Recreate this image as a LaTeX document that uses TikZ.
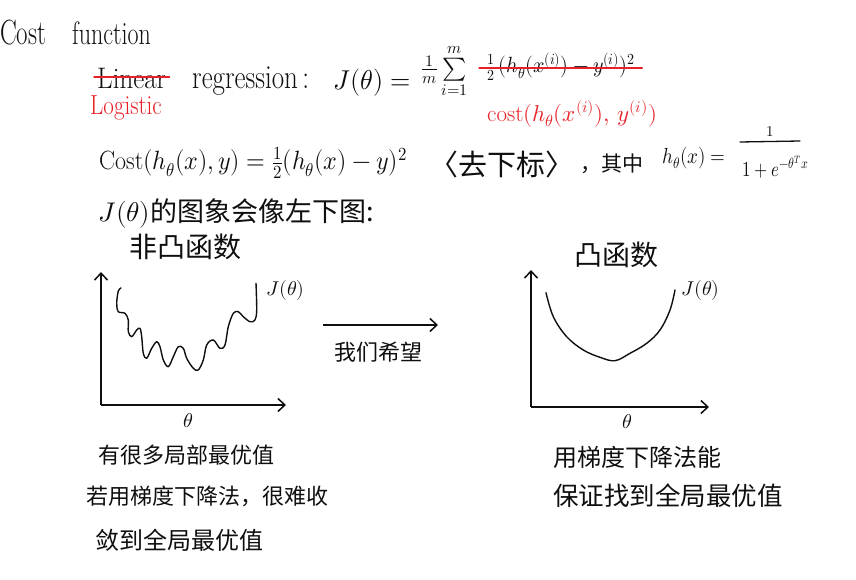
\documentclass[tikz,border=0pt]{standalone}
\usepackage{amsmath}
\usepackage{fontspec}
\usepackage{unicode-math}
\setmathfont{Latin Modern Math}
\newfontfamily\cjk{Noto Sans CJK SC}
\usetikzlibrary{arrows.meta}
\definecolor{pen}{RGB}{15,15,15}
\definecolor{redpen}{RGB}{232,32,40}
\newcommand{\fsz}[1]{\fontsize{#1}{#1}\selectfont}
\newcommand{\vstretch}[2]{\scalebox{1}[#1]{#2}}
\tikzset{
  txt/.style={inner sep=0pt, text=pen},
  redtxt/.style={inner sep=0pt, text=redpen},
  axis/.style={draw=pen, line width=1.5pt, -{Straight Barb[length=7pt,width=13pt]}},
  curve/.style={draw=pen, line width=1.4pt, line cap=round, line join=round},
  strike/.style={draw=redpen, line width=1.5pt, line cap=round},
  fracbar/.style={draw=pen, line width=1.3pt, line cap=round},
}
\begin{document}
\begin{tikzpicture}[x=1pt,y=-1pt]
\useasboundingbox[fill=white] (0,0) rectangle (856,580);

% title
\node[txt, anchor=base west, font=\fsz{25}] (cost) at (0,45) {\vstretch{1.4}{Cost}};
\node[txt, anchor=base west, font=\fsz{24}] (func) at (72,45) {\vstretch{1.35}{function}};

% line 2
\node[txt, anchor=base west, font=\fsz{27}] (linear) at (97,89) {\vstretch{1.1}{Linear}};
\draw[strike] ([xshift=-3pt,yshift=12pt]linear.base west) -- ([xshift=3pt,yshift=12pt]linear.base east);
\node[redtxt, anchor=base west, font=\fsz{23}] (logistic) at (90,115) {\vstretch{1.2}{Logistic}};
\node[txt, anchor=base west, font=\fsz{27}] (regr) at (192,89) {\vstretch{1.25}{regression\,:}};
\node[txt, anchor=base west, font=\fsz{26}] (jeq) at (333,90) {\vstretch{1.05}{$J(\theta)=$}};
\node[txt, anchor=west, font=\fsz{23}] (sumpart) at (421,71) {$\frac{1}{m}\sum\limits_{i=1}^{m}$};
\node[txt, anchor=west, font=\fsz{20}] (sq) at (486,67) {\vstretch{1.1}{$\tfrac12\,(h_\theta(x^{(i)})-y^{(i)})^2$}};
\draw[strike] ([xshift=-7pt,yshift=-1pt]sq.west) -- ([xshift=7pt,yshift=-1pt]sq.east);
\node[redtxt, anchor=west, font=\fsz{23}] (rcost) at (487,114) {$\mathrm{cost}(h_\theta(x^{(i)}),\,y^{(i)})$};

% line 3
\node[txt, anchor=west, font=\fsz{24}] (costdef) at (99,163) {\vstretch{1.1}{$\mathrm{Cost}(h_\theta(x),y)=\tfrac12(h_\theta(x)-y)^2$}};
\node[txt, anchor=west, font=\fsz{29}\cjk] (qu) at (429,164) {〈去下标〉};
\node[txt, anchor=west, font=\fsz{21}\cjk] (qz) at (580,164) {，其中};
\node[txt, anchor=west, font=\fsz{19}] (hdef) at (662,158) {\vstretch{1.15}{$h_\theta(x)=$}};
\coordinate (barl) at (740,142);
\coordinate (barr) at (800,141);
\draw[fracbar] (barl) -- (barr);
\node[txt, font=\fsz{15}] (num) at (770,132) {$1$};
\node[txt, anchor=west, font=\fsz{17}] (den) at (742,167) {\vstretch{1.25}{$1+e^{-\theta^Tx}$}};

% line 4
\node[txt, anchor=west, font=\fsz{27}] (jimg) at (98,213) {$J(\theta)${\cjk 的图象会像左下图:}};
\node[txt, anchor=west, font=\fsz{28}\cjk] (feitu) at (129,247) {非凸函数};

% left plot
\coordinate (lo) at (101,405);
\coordinate (ly) at (101,272);
\coordinate (lx) at (286,405);
\draw[axis] (lo) -- (ly);
\draw[axis] (lo) -- (lx);
\draw[curve] plot[smooth, tension=0.55] coordinates {
(121,288) (118.3,291) (116.7,303.3) (118.3,311.7) (125,313.3) (128.3,320) (128.3,331.7)
(131.7,336.7) (136.7,330) (140,328.3) (141.7,336.7) (143.3,353.3) (146.7,358.3)
(151.7,348.3) (156.7,341.7) (160,346.7) (163.3,360) (168.3,366.7) (173.3,356.7)
(178.3,346.7) (183.3,348.3) (186.7,358.3) (193.3,368.3) (198.3,370) (203.3,360)
(206.7,345) (213.3,340) (220,348.3) (225,345) (228.3,326.7) (233.3,313.3)
(238.3,311.7) (243.3,316.7) (250,321.7) (255,320) (256.7,310) (256,283.3)};
\node[txt, anchor=west, font=\fsz{20}] (jl) at (266,290) {$J(\theta)$};
\node[txt, font=\fsz{20}] (thl) at (188,421) {$\theta$};

% middle arrow
\coordinate (ma) at (323,325);
\coordinate (mb) at (438,325);
\draw[axis] (ma) -- (mb);
\node[txt, font=\fsz{22}\cjk] (xw) at (378,352) {我们希望};

% right plot
\node[txt, anchor=west, font=\fsz{28}\cjk] (tu) at (574,255) {凸函数};
\coordinate (ro) at (531,407);
\coordinate (ry) at (531,270);
\coordinate (rx) at (709,407);
\draw[axis] (ro) -- (ry);
\draw[axis] (ro) -- (rx);
\draw[curve] plot[smooth, tension=0.6] coordinates {
(546,292.7) (553.3,316.7) (566.7,336.7) (583.3,350) (600,357.3) (615,360.7)
(630,353.3) (646.7,343.3) (660,330) (670,310) (675,290)};
\node[txt, anchor=west, font=\fsz{20}] (jr) at (681,290) {$J(\theta)$};
\node[txt, font=\fsz{20}] (thr) at (627,422) {$\theta$};

% bottom notes
\node[txt, anchor=west, font=\fsz{22}\cjk] (l1) at (98,455) {有很多局部最优值};
\node[txt, anchor=west, font=\fsz{22}\cjk] (l2) at (86,496) {若用梯度下降法，很难收};
\node[txt, anchor=west, font=\fsz{24}\cjk] (l3) at (95,540) {敛到全局最优值};
\node[txt, anchor=west, font=\fsz{24}\cjk] (r1) at (553,457) {用梯度下降法能};
\node[txt, anchor=west, font=\fsz{25.5}\cjk] (r2) at (553,496) {保证找到全局最优值};
\end{tikzpicture}
\end{document}
